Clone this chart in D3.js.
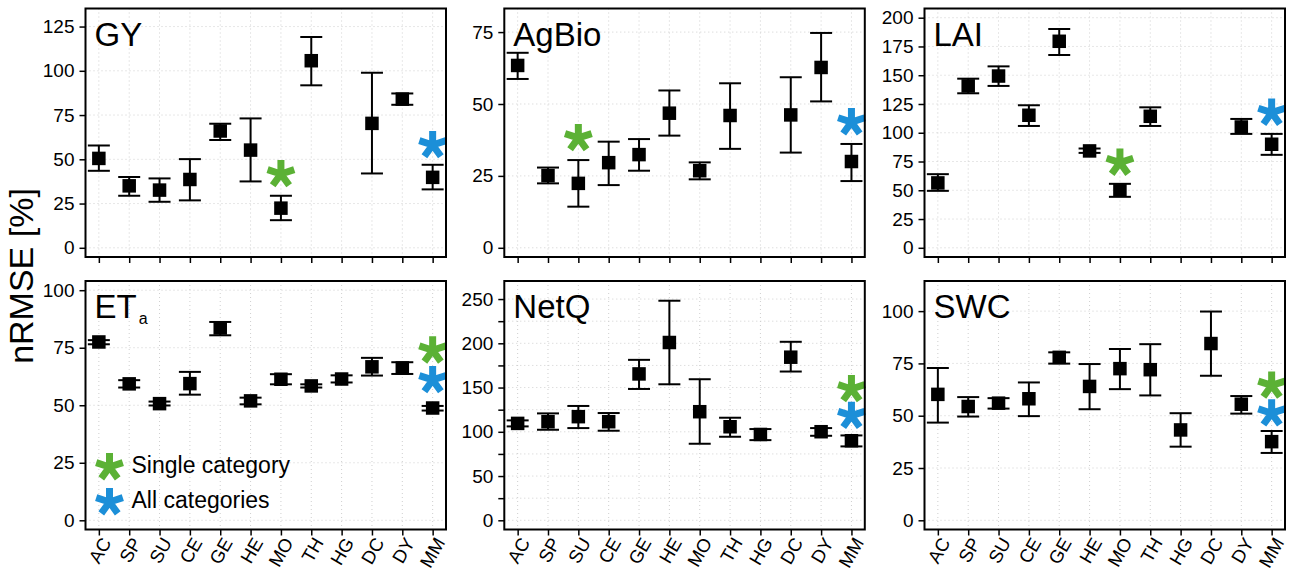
<!DOCTYPE html>
<html><head><meta charset="utf-8">
<script src="https://cdn.jsdelivr.net/npm/d3@7"></script>
<style>body{margin:0;background:#fff} text{font-family:"Liberation Sans",Arial,Helvetica,sans-serif}</style>
</head><body><svg id="c" width="1294" height="571"></svg>
<script>
const categories = ["AC","SP","SU","CE","GE","HE","MO","TH","HG","DC","DY","MM"];

const gyMean = [50.5, 35, 32.6, 38.6, 66, 55.2, 22.4, 105.7, null, 70.3, 84, 39.8];
const gyLow  = [43.5, 29.4, 26, 26.8, 60.9, 37.5, 15.6, 91.8, null, 42, 80.8, 33];
const gyHigh = [57.8, 40, 39.2, 50.1, 70.1, 73.1, 29.4, 119.1, null, 98.9, 87.2, 46.9];

const agMean = [63.4, 25.1, 22.4, 29.6, 32.4, 46.8, 26.8, 46, null, 46.2, 62.7, 30];
const agLow  = [58.7, 22.4, 14.3, 21.8, 26.8, 39, 23.8, 34.4, null, 33.1, 50.9, 23.2];
const agHigh = [67.8, 27.9, 30.5, 36.9, 37.8, 54.7, 29.7, 57.2, null, 59.3, 74.7, 36.1];

const laiMean = [56.4, 140.7, 149.3, 115.2, 179.5, 84.2, 50.1, 114.3, null, null, 105, 90];
const laiLow  = [49.5, 134.3, 140.7, 105.9, 167.6, 82.5, 44.3, 105.9, null, null, 99, 80.8];
const laiHigh = [64, 147, 157.7, 123.9, 190.2, 86.3, 55.6, 122.1, null, null, 112, 99];

const etMean = [77.5, 59.3, 50.7, 59.4, 83.6, 51.9, 61.3, 58.4, 61.4, 66.7, 66.2, 48.8];
const etLow  = [76.5, 57.7, 49.9, 54.6, 80.4, 50.4, 59.1, 57.7, 59.9, 62.9, 63.6, 47.7];
const etHigh = [78.3, 60.9, 51.6, 64.5, 86.2, 53.3, 63.5, 59.1, 63, 70.6, 68.7, 49.7];

const nqMean = [109.5, 111.4, 117.1, 111.4, 165.4, 200.9, 122.7, 105.7, 97, 184.3, 100.1, 89.9];
const nqLow  = [106.1, 102.3, 104.2, 101.2, 148.4, 153.7, 86.5, 94.4, 90.6, 168.1, 95.5, 83.5];
const nqHigh = [112.9, 120.8, 129.2, 121.2, 181.3, 248.1, 159.4, 115.9, 103.1, 201.7, 104.2, 95.9];

const swcMean = [60.2, 54.4, 56, 58.1, 77.9, 64, 72.5, 72, 43.2, 84.5, 55.5, 37.6];
const swcLow  = [46.7, 49.6, 53.4, 49.8, 74.9, 53.1, 62.7, 59.7, 35.2, 69.1, 51, 32.2];
const swcHigh = [72.8, 58.9, 58.4, 65.9, 80.3, 74.7, 81.9, 84.2, 51.2, 99.8, 59.4, 42.7];

// single-category and all-category results: [category, value]
const singleCat = [["MO", 41.7], ["SU", 38.2], ["MO", 74.1], ["MM", 73.9], ["MM", 148.4], ["MM", 64.5]];
const allCat    = [["MM", 58.1], ["MM", 43.7], ["MM", 117.5], ["MM", 61], ["MM", 118.2], ["MM", 51.2]];

const gyTicks = [0, 25, 50, 75, 100, 125];
const agTicks = [0, 25, 50, 75];
const laiTicks = [0, 25, 50, 75, 100, 125, 150, 175, 200];
const etTicks = [0, 25, 50, 75, 100];
const nqTicks = [0, 25, 50, 75, 100, 125, 150, 175, 200, 225, 250];
const nqLabels = [0, 50, 100, 150, 200, 250];
const swcTicks = [0, 25, 50, 75, 100];

const GREEN = "#5bb135", BLUE = "#1c8fd8";

const panels = [
  {name: "GY", mean: gyMean, lo: gyLow, hi: gyHigh, lim: [0, 130], ticks: gyTicks, labels: gyTicks},
  {name: "AgBio", mean: agMean, lo: agLow, hi: agHigh, lim: [0, 80], ticks: agTicks, labels: agTicks},
  {name: "LAI", mean: laiMean, lo: laiLow, hi: laiHigh, lim: [0, 200], ticks: laiTicks, labels: laiTicks},
  {name: "ET", sub: "a", mean: etMean, lo: etLow, hi: etHigh, lim: [0, 100], ticks: etTicks, labels: etTicks},
  {name: "NetQ", mean: nqMean, lo: nqLow, hi: nqHigh, lim: [0, 260], ticks: nqTicks, labels: nqLabels},
  {name: "SWC", mean: swcMean, lo: swcLow, hi: swcHigh, lim: [0, 110], ticks: swcTicks, labels: swcTicks}
];

const svg = d3.select("#c");
const colX = [85.5, 504.3, 924.5], rowY = [8.5, 281];
const pw = 360.5, ph = 248.5;

function asteriskPath(r) {
  const p = d3.path();
  for (let k = 0; k < 5; k++) {
    const a = (-90 + 72 * k) * Math.PI / 180;
    p.moveTo(0, 0);
    p.lineTo(r * Math.cos(a), r * Math.sin(a));
  }
  return p.toString();
}
const astD = asteriskPath(14);

panels.forEach((pd, pi) => {
  const col = pi % 3, row = Math.floor(pi / 3);
  const g = svg.append("g").attr("transform", `translate(${colX[col]},${rowY[row]})`);
  const xl = d3.scaleLinear().domain([1 - 0.44, 12 + 0.44]).range([0, pw]);
  const xc = c => xl(categories.indexOf(c) + 1);
  const r = pd.lim[1] - pd.lim[0];
  const y = d3.scaleLinear().domain([pd.lim[0] - 0.04 * r, pd.lim[1] + 0.04 * r]).range([ph, 0]);

  // grid
  const grid = g.append("g").attr("stroke", "#cfcfcf").attr("stroke-width", 1).attr("stroke-dasharray", "1,3");
  grid.selectAll("line.v").data(categories).join("line")
    .attr("x1", d => xc(d)).attr("x2", d => xc(d)).attr("y1", 0).attr("y2", ph);
  grid.selectAll("line.h").data(pd.ticks).join("line")
    .attr("x1", 0).attr("x2", pw).attr("y1", d => y(d)).attr("y2", d => y(d));

  const data = categories.map((c, i) => ({c, m: pd.mean[i], lo: pd.lo[i], hi: pd.hi[i]})).filter(d => d.m != null);
  const eb = g.append("g").attr("stroke", "#000").attr("stroke-width", 2);
  eb.selectAll("line.s").data(data).join("line")
    .attr("x1", d => xc(d.c)).attr("x2", d => xc(d.c)).attr("y1", d => y(d.lo)).attr("y2", d => y(d.hi));
  eb.selectAll("line.t").data(data).join("line")
    .attr("x1", d => xc(d.c) - 11).attr("x2", d => xc(d.c) + 11).attr("y1", d => y(d.hi)).attr("y2", d => y(d.hi));
  eb.selectAll("line.b").data(data).join("line")
    .attr("x1", d => xc(d.c) - 11).attr("x2", d => xc(d.c) + 11).attr("y1", d => y(d.lo)).attr("y2", d => y(d.lo));
  const sq = 13.5;
  g.append("g").selectAll("rect").data(data).join("rect")
    .attr("x", d => xc(d.c) - sq / 2).attr("y", d => y(d.m) - sq / 2)
    .attr("width", sq).attr("height", sq).attr("fill", "#000");

  // asterisks
  [[singleCat[pi], GREEN], [allCat[pi], BLUE]].forEach(([a, c]) => {
    g.append("path").attr("d", astD)
      .attr("transform", `translate(${xc(a[0])},${y(a[1])})`)
      .attr("stroke", c).attr("stroke-width", 7).attr("fill", "none");
  });

  // title
  const t = g.append("text").attr("x", 9).attr("y", 37).attr("font-size", 33).attr("fill", "#000").text(pd.name);
  if (pd.sub) t.append("tspan").attr("font-size", 16).attr("dy", 6).attr("dx", 2).text(pd.sub);

  // border
  g.append("rect").attr("x", 0).attr("y", 0).attr("width", pw).attr("height", ph)
    .attr("fill", "none").attr("stroke", "#000").attr("stroke-width", 2);

  // y axis
  const ya = g.append("g").call(d3.axisLeft(y).tickValues(pd.ticks).tickSize(6).tickPadding(5)
    .tickFormat(d => pd.labels.includes(d) ? d : ""));
  ya.select(".domain").remove();
  ya.selectAll(".tick line").attr("stroke", "#000").attr("stroke-width", 1.5);
  ya.selectAll(".tick text").attr("font-size", 19).attr("font-family", "Liberation Sans, Arial, sans-serif").attr("fill", "#000");

  // x axis
  const xa = g.append("g").attr("transform", `translate(0,${ph})`)
    .call(d3.axisBottom(xl).tickValues(d3.range(1, 13)).tickSize(6).tickFormat(""));
  xa.select(".domain").remove();
  xa.selectAll(".tick line").attr("stroke", "#000").attr("stroke-width", 1.5);
  if (row === 1) {
    g.append("g").selectAll("text").data(categories).join("text")
      .attr("transform", d => `translate(${xc(d) + 13},${ph + 13}) rotate(-60)`)
      .attr("text-anchor", "end").attr("font-size", 18.5).attr("fill", "#000").text(d => d);
  }

  if (pi === 3) {
    const leg = [["Single category", GREEN], ["All categories", BLUE]];
    leg.forEach((l, k) => {
      g.append("path").attr("d", astD).attr("transform", `translate(${24},${186 + k * 35})`)
        .attr("stroke", l[1]).attr("stroke-width", 7).attr("fill", "none");
      g.append("text").attr("x", 46).attr("y", 192 + k * 35).attr("font-size", 23).attr("fill", "#000").text(l[0]);
    });
  }
});

svg.append("text").attr("transform", "translate(33,276) rotate(-90)")
  .attr("text-anchor", "middle").attr("font-size", 34).attr("fill", "#000").text("nRMSE [%]");
</script></body></html>
